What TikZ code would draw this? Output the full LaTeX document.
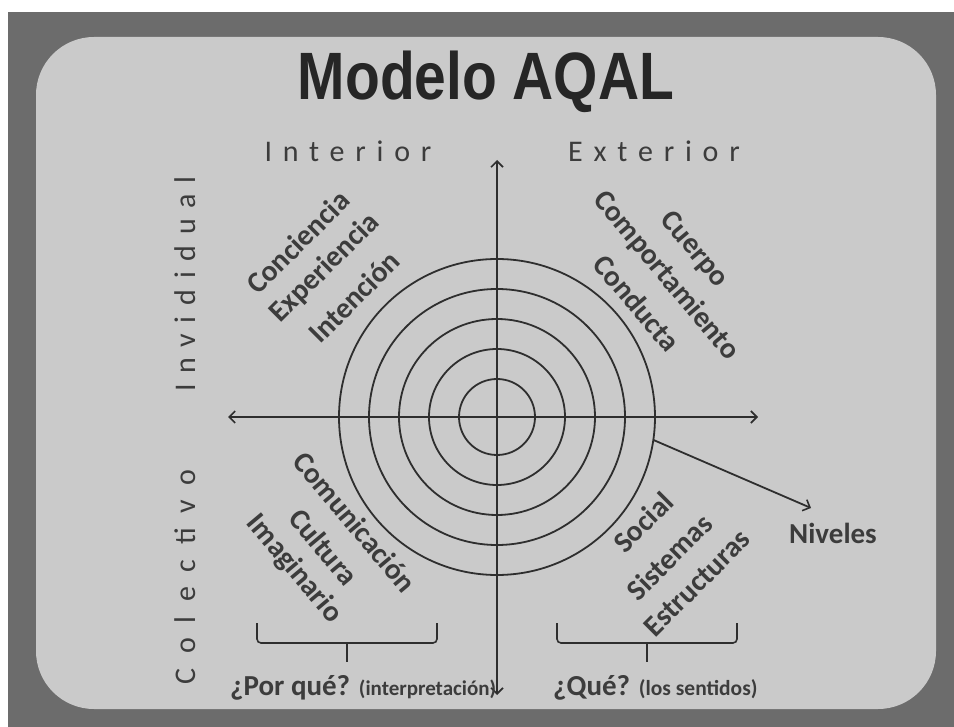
\documentclass[tikz,border=0pt]{standalone}
\usepackage{fontspec}
\setmainfont{Carlito}
\newfontfamily\titlefont[FakeStretch=0.85]{Liberation Sans}
\newfontfamily\spacedfont[LetterSpace=36]{Carlito}
\newfontfamily\widefont[LetterSpace=49]{Carlito}
\usetikzlibrary{arrows.meta,calc}
\definecolor{frame}{HTML}{6C6C6C}
\definecolor{panel}{HTML}{CACACA}
\definecolor{ink}{HTML}{3C3C3C}
\definecolor{axis}{HTML}{2E2E2E}
\definecolor{titleink}{HTML}{262626}
\begin{document}
\begin{tikzpicture}[x=1pt,y=-1pt,
  word/.style={font=\bfseries\fontsize{29.5}{29.5}\selectfont, text=ink, inner sep=0pt},
  side/.style={font=\spacedfont\fontsize{30}{30}\selectfont, text=ink, inner sep=0pt},
  axisline/.style={draw=axis, line width=1.8pt, -{Straight Barb[length=6pt,width=12pt,line width=1.6pt]}},
  ring/.style={draw=axis, line width=1.8pt},
  bracket/.style={draw=axis, line width=1.6pt, rounded corners=4pt},
  question/.style={text=ink, inner sep=0pt, anchor=base west}]
\useasboundingbox (0,0) rectangle (954,727);
\fill[white] (0,0) rectangle (954,727);
\fill[frame] (8,12) rectangle (954,727);
\fill[panel, rounded corners=58pt] (36,37) rectangle (936,709);

% title
\node[anchor=base, inner sep=0pt, text=titleink, font=\titlefont\bfseries\fontsize{67}{67}\selectfont] (title) at (486,100) {Modelo AQAL};

% quadrant labels
\node[side, anchor=base] (interior) at (348,162) {Interior};
\node[side, anchor=base] (exterior) at (654,162) {Exterior};
\node[side, rotate=90] (individual) at (185,284) {Invididual};
\node[side, font=\widefont\fontsize{30}{30}\selectfont, rotate=90] (colectivo) at (185,577) {Colectivo};

% centre and axes
\coordinate (c) at (497,417);
\coordinate (top) at (497,160);
\coordinate (bottom) at (497,695);
\coordinate (left) at (228,417);
\coordinate (right) at (758,417);
\draw[axisline] (c) -- (top);
\draw[axisline] (c) -- (bottom);
\draw[axisline] (c) -- (left);
\draw[axisline] (c) -- (right);

% levels
\foreach \r in {38,68,98,128,158} \draw[ring] (c) circle[radius=\r pt];

% Niveles
\coordinate (nstart) at (653.5,440);
\node[word, font=\bfseries\fontsize{29}{29}\selectfont] (niveles) at (833,533) {Niveles};
\coordinate (nend) at (811,508);
\draw[axisline] (nstart) -- (nend);

% upper left
\node[word, rotate=45] (conciencia) at (298,242) {Conciencia};
\node[word, rotate=45] (experiencia) at (325,268) {Experiencia};
\node[word, rotate=45] (intencion) at (354,297) {Intención};

% upper right
\node[word, rotate=-50] (cuerpo) at (694,250) {Cuerpo};
\node[word, rotate=-50] (comportamiento) at (666,276) {Comportamiento};
\node[word, rotate=-50] (conducta) at (637,303) {Conducta};

% lower left
\node[word, rotate=-50] (comunicacion) at (355,522) {Comunicación};
\node[word, rotate=-50] (cultura) at (324,547) {Cultura};
\node[word, rotate=-50] (imaginario) at (294,569) {Imaginario};

% lower right
\node[word, rotate=45] (social) at (643,522) {Social};
\node[word, rotate=45] (sistemas) at (669,557) {Sistemas};
\node[word, rotate=45] (estructuras) at (697,583) {Estructuras};

% brackets
\draw[bracket] (257,623) -- (257,643) -- (437,643) -- (437,623);
\draw[axis, line width=1.6pt] (347,643) -- (347,662);
\draw[bracket] (557,623) -- (557,643) -- (737,643) -- (737,623);
\draw[axis, line width=1.6pt] (647,643) -- (647,662);

% questions
\node[question] (porque) at (230,695) {\bfseries\fontsize{29}{29}\selectfont ¿Por qué? {\fontsize{21}{21}\selectfont (interpretación)}};
\node[question] (que) at (553,695) {\bfseries\fontsize{29}{29}\selectfont ¿Qué? {\fontsize{21.5}{21.5}\selectfont (los sentidos)}};
\end{tikzpicture}
\end{document}
